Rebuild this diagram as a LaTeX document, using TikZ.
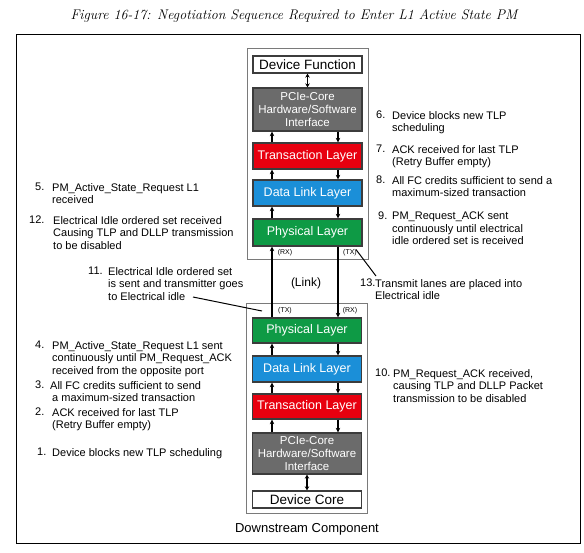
\documentclass[tikz,border=0pt]{standalone}
\usepackage{fontspec}
\setsansfont{Liberation Sans}
\usetikzlibrary{arrows.meta,calc}
\definecolor{tlred}{HTML}{E8000F}
\definecolor{dlblue}{HTML}{1B8FD8}
\definecolor{phgreen}{HTML}{0E9A45}
\definecolor{coregray}{HTML}{6B6B6B}
\definecolor{edgegray}{HTML}{3C3C3C}
\definecolor{compgray}{HTML}{7A7A7A}
\begin{document}
\begin{tikzpicture}[x=1pt,y=-1pt,
  layer/.style={draw=edgegray,line width=1.3pt,minimum width=109pt,inner sep=0pt,
     text=white,font=\sffamily\fontsize{12.5}{14}\selectfont},
  endbox/.style={draw=edgegray,line width=1.3pt,fill=white,minimum width=109pt,minimum height=17pt,inner sep=0pt,
     font=\sffamily\fontsize{13.5}{15}\selectfont},
  corebox/.style={layer,fill=coregray,align=center,font=\sffamily\fontsize{11.5}{12.8}\selectfont},
  comp/.style={draw=compgray,line width=1pt},
  note/.style={anchor=north west,inner sep=0pt,align=left,font=\sffamily\fontsize{11}{12.5}\selectfont},
  num/.style={anchor=north west,inner sep=0pt,font=\sffamily\fontsize{11}{12.5}\selectfont},
  tiny/.style={inner sep=0pt,font=\sffamily\fontsize{7}{8}\selectfont},
  arr/.style={line width=1.3pt,-{Stealth[length=4.5pt,width=4.5pt]}},
  darr/.style={line width=1.3pt,{Stealth[length=4pt,width=4.5pt]}-{Stealth[length=4pt,width=4.5pt]}},
  lead/.style={line width=1pt}]
\useasboundingbox (0,0) rectangle (584,552);
% title
\node[font=\itshape\fontsize{14}{16}\selectfont,inner sep=0pt] (title) at (294,16) {Figure 16-17: Negotiation Sequence Required to Enter L1 Active State PM};
% frame
\draw[line width=1pt] (16,34) rectangle (580,543);

% upper component
\draw[comp] (247,48) rectangle (368,259);
\node[endbox] (udev) at (307.5,64.5) {Device Function};
\node[corebox,minimum height=43pt] (ucore) at (307.5,109.5) {PCIe-Core\\Hardware/Software\\Interface};
\node[layer,fill=tlred,minimum height=26pt] (utl) at (307.5,156) {Transaction Layer};
\node[layer,fill=dlblue,minimum height=26pt] (udl) at (307.5,193) {Data Link Layer};
\node[layer,fill=phgreen,minimum height=27pt] (uph) at (307.5,232.5) {Physical Layer};
\draw[darr] (udev) -- (ucore);
\foreach \a/\b in {ucore/utl,utl/udl,udl/uph}{
  \draw[arr] ([xshift=-35.5pt]\b.north) -- ([xshift=-35.5pt]\a.south);
  \draw[arr] ([xshift=30.5pt]\a.south) -- ([xshift=30.5pt]\b.north);
}
\node[tiny] (urx) at (285,253) {(RX)};
\node[tiny] (utx) at (350,253) {(TX)};

% lower component
\draw[comp] (246,303) rectangle (367,513);
\node[layer,fill=phgreen,minimum height=25pt] (lph) at (307,330.5) {Physical Layer};
\node[layer,fill=dlblue,minimum height=26pt] (ldl) at (307,369) {Data Link Layer};
\node[layer,fill=tlred,minimum height=25pt] (ltl) at (307,406.5) {Transaction Layer};
\node[corebox,minimum height=41pt] (lcore) at (307,453.5) {PCIe-Core\\Hardware/Software\\Interface};
\node[endbox] (ldev) at (307,499.5) {Device Core};
\draw[darr] (lcore) -- (ldev);
\foreach \a/\b in {lph/ldl,ldl/ltl,ltl/lcore}{
  \draw[arr] ([xshift=-35pt]\b.north) -- ([xshift=-35pt]\a.south);
  \draw[arr] ([xshift=31pt]\a.south) -- ([xshift=31pt]\b.north);
}
\node[tiny] (ltx) at (285,311) {(TX)};
\node[tiny] (lrx) at (350,311) {(RX)};
\node[font=\sffamily\fontsize{13}{15}\selectfont,inner sep=0pt] (down) at (307,529) {Downstream Component};

% link
\draw[arr] ([xshift=-35pt]lph.north) -- ([xshift=-35pt]lph.north |- uph.south);
\draw[arr] ([xshift=30.5pt]uph.south) -- ([xshift=30.5pt]uph.south |- lph.north);
\node[font=\sffamily\fontsize{12}{14}\selectfont,inner sep=0pt] (link) at (306,283) {(Link)};

% right notes (upper)
\node[num] (n6) at (376,111) {6.};
\node[note] (t6) at (392,111) {Device blocks new TLP\\scheduling};
\node[num] (n7) at (376,145) {7.};
\node[note] (t7) at (392,145) {ACK received for last TLP\\(Retry Buffer empty)};
\node[num] (n8) at (376,176) {8.};
\node[note] (t8) at (392,176) {All FC credits sufficient to send a\\maximum-sized transaction};
\node[num] (n9) at (378,212) {9.};
\node[note] (t9) at (392,212) {PM\_Request\_ACK sent\\continuously until electrical\\idle ordered set is received};

% left notes (upper)
\node[num] (n5) at (35,183) {5.};
\node[note] (t5) at (52,183) {PM\_Active\_State\_Request L1\\received};
\node[num] (n12) at (29,216) {12.};
\node[note] (t12) at (53,216) {Electrical Idle ordered set received\\Causing TLP and DLLP transmission\\to be disabled};
\node[num] (n11) at (88,267) {11.};
\node[note] (t11) at (108,267) {Electrical Idle ordered set\\is sent and transmitter goes\\to Electrical idle};
\coordinate (c11a) at (193,297);
\coordinate (c11b) at (262,311);
\draw[lead] (c11a) -- (c11b);

% 13
\node[num] (n13) at (360,279) {13.};
\node[note] (t13) at (375,279) {Transmit lanes are placed into\\Electrical idle};
\coordinate (c13) at (376,276);
\draw[lead] ([xshift=-1pt]utx.north east) -- (c13);

% right notes (lower)
\node[num] (n10) at (375,369) {10.};
\node[note] (t10) at (393,369) {PM\_Request\_ACK received,\\causing TLP and DLLP Packet\\transmission to be disabled};

% left notes (lower)
\node[num] (n4) at (35,341) {4.};
\node[note] (t4) at (52,341) {PM\_Active\_State\_Request L1 sent\\continuously until PM\_Request\_ACK\\received from the opposite port};
\node[num] (n3) at (35,381) {3.};
\node[note] (t3) at (50,381) {All FC credits sufficient to send\\\hspace*{2pt}a maximum-sized transaction};
\node[num] (n2) at (35,408) {2.};
\node[note] (t2) at (52,408) {ACK received for last TLP\\(Retry Buffer empty)};
\node[num] (n1) at (37,448) {1.};
\node[note] (t1) at (52,448) {Device blocks new TLP scheduling};
\end{tikzpicture}
\end{document}
